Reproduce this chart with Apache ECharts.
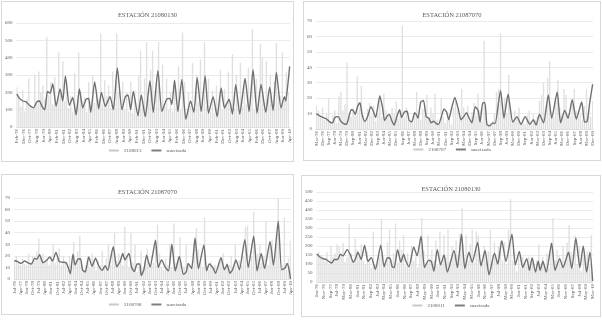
<!DOCTYPE html>
<html>
<head>
<meta charset="utf-8">
<script src="https://cdn.jsdelivr.net/npm/echarts@6/dist/echarts.min.js"></script>
<style>
    body { margin: 0; background: #fff; }
    .panel { position: absolute; box-sizing: border-box; border: 1px solid #d9d9d9; background: #fff; }
</style>
</head>
<body>
<div id="p1" class="panel" style="left:1px;top:1px;width:293px;height:161px"></div>
<div id="p2" class="panel" style="left:303px;top:1px;width:298px;height:160px"></div>
<div id="p3" class="panel" style="left:1px;top:174px;width:293px;height:141px"></div>
<div id="p4" class="panel" style="left:301px;top:175px;width:300px;height:142px"></div>
<script>
var MESES = ['Jan', 'Feb', 'Mar', 'Apr', 'May', 'Jun', 'Jul', 'Aug', 'Sep', 'Oct', 'Nov', 'Dec'];

// panel 1: ESTACIÓN 21080130 (Feb-76 .. Apr-10)
var p1Start = [1976, 1], p1Count = 411, p1LabelStep = 10;
var p1BarStep = 3;
var p1Bars = [230,180,120,210,90,160,280,120,100,300,150,320,200,240,160,520,180,260,130,290,140,430,200,380,150,260,110,180,90,310,120,430,200,150,170,90,260,120,300,140,210,160,540,130,270,180,240,110,320,140,540,200,150,260,100,200,90,260,80,210,70,300,440,120,280,490,160,330,440,110,250,490,140,360,120,280,100,200,90,270,110,350,100,545,260,70,200,120,370,100,300,140,390,160,490,120,280,90,210,80,240,130,330,100,220,120,320,140,420,110,300,150,370,120,280,130,340,150,565,100,280,130,480,400,140,380,160,300,130,260,485,200,180,430,150,320,200];
var p1Line = [[0,190],[4,165],[9,150],[14,145],[19,125],[25,110],[30,145],[34,150],[38,118],[42,100],[46,205],[50,195],[54,250],[59,120],[65,220],[69,150],[73,295],[79,125],[84,170],[89,70],[94,220],[99,110],[104,160],[108,165],[111,85],[117,260],[123,105],[127,200],[133,120],[140,175],[145,100],[151,340],[158,100],[163,175],[167,185],[171,100],[175,205],[182,65],[187,185],[193,60],[200,265],[205,85],[212,325],[218,90],[225,160],[230,165],[233,130],[237,270],[242,90],[248,275],[254,45],[261,150],[266,85],[271,285],[277,90],[283,295],[288,80],[295,175],[301,60],[307,225],[312,110],[319,160],[324,75],[329,245],[335,75],[343,280],[349,90],[355,330],[361,80],[367,245],[374,85],[380,230],[385,95],[390,315],[397,110],[402,175],[404,150],[407,235],[410,350]];

// panel 2: ESTACIÓN 21087070 (Mar-76 .. Dec-09)
var p2Start = [1976, 2], p2Count = 406, p2LabelStep = 9;
var p2BarStep = 3;
var p2Bars = [15,12,8,14,6,10,20,5,9,12,4,21,24,12,16,43,10,8,14,9,34,14,28,9,6,13,17,9,15,5,10,22,8,23,12,9,6,14,10,18,7,12,67,8,14,5,6,4,10,24,8,6,13,9,22,7,14,10,23,6,5,20,8,4,6,10,3,14,18,12,9,26,14,8,15,6,11,17,9,23,12,5,57,8,3,4,5,10,24,26,62,12,20,10,35,9,5,12,8,14,4,6,3,9,12,5,10,6,8,18,22,30,12,33,44,9,8,18,32,14,9,26,22,10,8,16,26,12,8,10,6,15,26,12,8,18];
var p2Line = [[0,10],[5,8.5],[10,7.5],[15,6.5],[20,4.5],[24,4],[27,7.5],[32,8],[36,5],[40,3.5],[44,3],[47,6.5],[51,12.5],[54,12],[57,9.5],[60,14],[64,17],[67,9.5],[71,5],[75,8],[80,14.5],[83,12],[87,7.5],[93,21.5],[97,14],[100,5.5],[104,8.5],[107,9.5],[110,6],[114,2.5],[118,8],[122,12.5],[125,7.5],[129,11],[133,11.5],[136,5.5],[140,4.5],[144,10.5],[147,9],[149,7],[153,17.5],[157,18.5],[161,8],[165,7],[168,4],[172,5],[176,3.5],[179,3],[183,7.5],[187,13],[191,11],[194,6],[198,13],[203,20.5],[208,13],[212,6],[216,8],[220,10.5],[224,7],[228,4],[233,14.5],[237,12],[240,4.5],[244,17],[247,17],[250,3],[254,2],[259,4],[262,3.5],[270,25],[275,7],[281,22.5],[288,4.5],[294,8],[300,3],[306,8],[313,3],[318,6],[322,2.5],[327,9.5],[333,4],[340,22],[345,7],[353,24],[358,4],[364,12],[369,7],[375,19],[381,6.5],[389,17.5],[393,4.5],[397,5],[401,18],[405,29]];

// panel 3: ESTACIÓN 21087070 (Jul-76 .. Apr-10)
var p3Start = [1976, 6], p3Count = 406, p3LabelStep = 9;
var p3BarStep = 3;
var p3Bars = [16,20,14,12,18,13,12,22,14,20,16,24,35,19,22,15,18,12,20,30,14,18,26,12,20,14,8,20,10,32,14,24,37,12,8,12,20,10,22,15,8,15,12,24,10,18,30,12,22,40,16,22,18,12,45,20,10,40,14,30,6,12,24,10,16,26,12,20,14,32,47,22,10,8,18,12,30,10,48,14,20,36,8,10,30,12,8,16,30,44,26,14,10,53,12,8,15,10,12,6,14,18,22,8,14,12,20,10,30,8,16,12,20,45,46,12,20,58,10,22,30,14,20,50,12,28,34,14,30,70,18,12,53,8,18,33];
var p3Line = [[0,16],[5,15],[10,13.5],[15,15.5],[20,14],[25,13],[30,18],[33,17],[37,21],[42,14],[47,16],[52,19],[56,15.5],[61,23],[66,15],[71,14.5],[76,14],[79,10],[82,4.5],[86,21.5],[89,12],[93,17],[97,17.5],[100,8],[104,6],[109,19],[114,11],[119,18],[124,11],[129,7.5],[133,11.5],[137,7.5],[145,28],[150,10.5],[155,15],[159,22],[162,16.5],[168,22],[172,10],[176,6.5],[180,13],[184,13],[186,3],[190,8],[194,20.5],[199,10.5],[207,33.5],[211,10],[216,16.5],[221,10.5],[226,7],[231,30],[236,7],[242,19.5],[248,4],[252,6],[255,13.5],[260,9],[265,35.5],[270,9],[278,29.5],[282,7],[286,13],[292,9],[295,5],[303,18.5],[308,8],[312,12.5],[316,5],[320,8],[325,16.5],[330,8],[338,34],[343,10],[351,37],[356,7],[362,22],[367,9],[375,32.5],[380,12],[387,50],[392,8],[397,9.5],[400,13.5],[403,8],[405,0]];

// panel 4: ESTACIÓN 21080130 (Jan-76 .. Mar-10)
var p4Start = [1976, 0], p4Count = 411, p4LabelStep = 10;
var p4BarStep = 3;
var p4Bars = [160,170,150,140,120,165,100,200,140,160,210,200,150,215,110,140,325,160,120,240,180,150,210,120,100,170,130,80,280,100,120,140,350,90,100,220,290,120,160,325,110,230,180,260,90,160,100,200,120,140,80,240,355,170,90,260,130,180,120,230,90,280,100,260,140,290,110,200,150,230,150,270,410,130,260,120,210,290,110,280,260,120,100,200,120,170,290,150,220,130,200,230,120,220,100,290,460,120,170,60,150,80,140,110,90,140,100,130,60,120,210,100,140,90,160,80,220,355,120,180,150,90,200,120,220,315,170,80,260,100,200,60,140,110,170,90,260];
var p4Line = [[0,155],[4,140],[9,130],[14,125],[19,110],[22,105],[26,125],[31,125],[35,155],[39,145],[45,180],[50,150],[54,110],[57,125],[61,165],[66,125],[71,205],[76,115],[81,135],[87,70],[95,205],[100,85],[105,135],[109,130],[112,85],[115,80],[120,180],[125,110],[129,155],[132,120],[137,85],[144,195],[149,145],[155,255],[160,80],[166,120],[170,115],[174,60],[179,180],[184,95],[189,150],[194,55],[204,175],[209,80],[215,265],[220,75],[226,165],[231,110],[239,220],[244,90],[250,175],[256,40],[264,160],[269,100],[275,230],[281,115],[290,265],[295,95],[301,170],[306,80],[312,130],[316,65],[320,135],[325,55],[329,115],[332,65],[336,115],[341,55],[349,215],[354,65],[361,130],[366,80],[374,165],[379,75],[385,245],[391,80],[396,200],[401,55],[406,165],[410,5]];

function buildCats(start, count) {
    var cats = [];
    var y = start[0], m = start[1];
    for (var i = 0; i < count; i++) {
        cats.push(MESES[m] + '-' + String(y).slice(2));
        m++;
        if (m > 11) { m = 0; y++; }
    }
    return cats;
}

function drawPanel(id, cfg) {
    var chart = echarts.init(document.getElementById(id));
    var cats = buildCats(cfg.start, cfg.count);
    var barData = [];
    for (var i = 0; i < cfg.bars.length; i++) {
        if (i * cfg.barStep < cfg.count) barData.push([i * cfg.barStep, cfg.bars[i]]);
    }
    var txt = { fontFamily: 'Liberation Serif', color: '#595959' };
    chart.setOption({
        animation: false,
        title: {
            text: cfg.title,
            left: 'center',
            top: cfg.titleTop,
            textStyle: { fontFamily: 'Liberation Serif', fontWeight: 'normal', fontSize: 6.5, color: '#595959' }
        },
        legend: {
            bottom: cfg.legendBottom,
            left: 'center',
            itemWidth: 10,
            itemHeight: 2,
            itemGap: 10,
            textStyle: { fontFamily: 'Liberation Serif', fontSize: 5, color: '#595959' },
            data: [
                { name: cfg.barName, icon: 'rect', itemStyle: { color: '#c8c8c8' } },
                { name: 'suavizada', icon: 'rect', itemStyle: { color: '#7f7f7f' } }
            ]
        },
        grid: cfg.grid,
        xAxis: {
            type: 'category',
            data: cats,
            boundaryGap: true,
            axisLine: { lineStyle: { color: '#d9d9d9', width: 0.7 } },
            axisTick: { show: false },
            axisLabel: {
                interval: cfg.labelStep - 1,
                rotate: 90,
                fontSize: 5,
                margin: 2,
                fontFamily: txt.fontFamily,
                color: txt.color
            }
        },
        yAxis: {
            type: 'value',
            min: 0,
            max: cfg.max,
            interval: cfg.interval,
            axisLine: { show: false },
            axisTick: { show: false },
            splitLine: { lineStyle: { color: '#e3e3e3', width: 0.7 } },
            axisLabel: { fontSize: 5, margin: 4, fontFamily: txt.fontFamily, color: txt.color }
        },
        series: [
            {
                name: cfg.barName,
                type: 'bar',
                data: barData,
                barWidth: 1.4,
                itemStyle: { color: '#e0e0e0' }
            },
            {
                name: 'suavizada',
                type: 'line',
                data: cfg.line,
                showSymbol: false,
                smooth: 0.2,
                lineStyle: { color: '#707070', width: 1.4 }
            }
        ]
    });
}

drawPanel('p1', {
    title: 'ESTACIÓN 21080130', barName: '2108013',
    start: p1Start, count: p1Count, labelStep: p1LabelStep,
    bars: p1Bars, barStep: p1BarStep, line: p1Line,
    max: 600, interval: 100, titleTop: 5, legendBottom: 3,
    grid: { left: 14, top: 21, width: 274, height: 104 }
});
drawPanel('p2', {
    title: 'ESTACIÓN 21087070', barName: '2108707',
    start: p2Start, count: p2Count, labelStep: p2LabelStep,
    bars: p2Bars, barStep: p2BarStep, line: p2Line,
    max: 70, interval: 10, titleTop: 5, legendBottom: 3,
    grid: { left: 11, top: 19, width: 278, height: 108 }
});
drawPanel('p3', {
    title: 'ESTACIÓN 21087070', barName: '2108708',
    start: p3Start, count: p3Count, labelStep: p3LabelStep,
    bars: p3Bars, barStep: p3BarStep, line: p3Line,
    max: 70, interval: 10, titleTop: 9, legendBottom: 2,
    grid: { left: 11, top: 23, width: 278, height: 81 }
});
drawPanel('p4', {
    title: 'ESTACIÓN 21080130', barName: '2108011',
    start: p4Start, count: p4Count, labelStep: p4LabelStep,
    bars: p4Bars, barStep: p4BarStep, line: p4Line,
    max: 500, interval: 50, titleTop: 5, legendBottom: 3,
    grid: { left: 13, top: 16, width: 278, height: 90 }
});
</script>
</body>
</html>
